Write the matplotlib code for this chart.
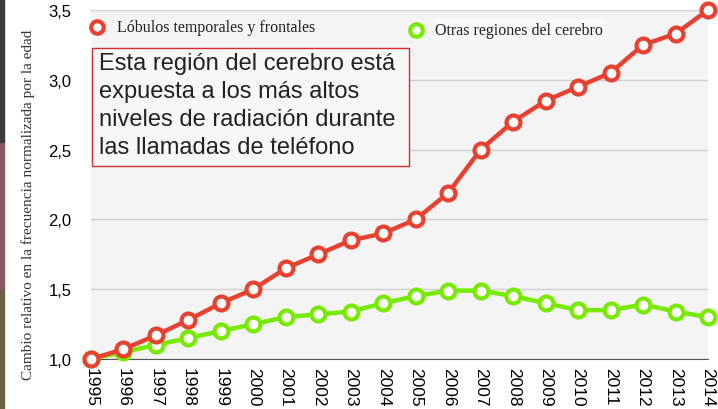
import matplotlib.pyplot as plt
from matplotlib.patches import Rectangle

# Datos
anios = list(range(1995, 2015))
lobulos = [1.0, 1.07, 1.17, 1.28, 1.40, 1.50, 1.65, 1.75, 1.85, 1.90,
           2.0, 2.19, 2.5, 2.7, 2.85, 2.95, 3.05, 3.25, 3.33, 3.5]
otras = [1.0, 1.05, 1.10, 1.15, 1.20, 1.25, 1.30, 1.32, 1.34, 1.40,
         1.45, 1.49, 1.49, 1.45, 1.40, 1.35, 1.35, 1.39, 1.34, 1.30]
yticks = [1.0, 1.5, 2.0, 2.5, 3.0, 3.5]
ytick_labels = ['1,0', '1,5', '2,0', '2,5', '3,0', '3,5']

rojo = '#e8412f'
verde = '#77ea00'

fig = plt.figure(figsize=(7.18, 4.10), dpi=100)
ax = fig.add_axes([91/718, 50/410, 617/718, 349/410])
ax.set_facecolor('#f4f4f4')

# franja de color en el borde izquierdo
for y0, h, c in [(0, 120, '#6c6248'), (120, 147, '#8a5a60'), (267, 143, '#3c3c3c')]:
    fig.patches.append(Rectangle((0, y0/410), 4/718, h/410, transform=fig.transFigure,
                                 color=c, zorder=0))

ax.plot(anios, otras, color=verde, lw=3.2, marker='o', ms=10, mfc='white',
        mec=verde, mew=3, clip_on=False, zorder=3)
ax.plot(anios, lobulos, color=rojo, lw=3.2, marker='o', ms=10, mfc='white',
        mec=rojo, mew=3, clip_on=False, zorder=4)

ax.set_xlim(1995, 2014)
ax.set_ylim(1.0, 3.5)
ax.set_xticks(anios)
ax.set_xticklabels([str(a) for a in anios], rotation=-90, fontsize=12.5,
                   family='Liberation Sans')
ax.set_yticks(yticks)
ax.set_yticklabels(ytick_labels, fontsize=12, family='Liberation Sans')
ax.tick_params(length=0, pad=6)
ax.tick_params(axis='y', pad=14)
ax.yaxis.grid(True, color='#d0d0d0', lw=1)
ax.set_axisbelow(True)
for s in ['top', 'right', 'left']:
    ax.spines[s].set_visible(False)
ax.spines['bottom'].set_color('#555555')

ax.set_ylabel('Cambio relativo en la frecuencia normalizada por la edad',
              family='Liberation Serif', fontsize=11, color='#333333')
ax.yaxis.set_label_coords(-0.09, 0.445)

# leyenda
ax.plot([1995.2], [3.375], marker='o', ms=9, mfc='white', mec=rojo, mew=3,
        clip_on=False, zorder=5)
ax.text(1995.8, 3.375, 'Lóbulos temporales y frontales', va='center',
        family='Liberation Serif', fontsize=11.5, color='#222222')
ax.plot([2005.0], [3.36], marker='o', ms=9, mfc='white', mec=verde, mew=3,
        clip_on=False, zorder=5)
ax.text(2005.6, 3.36, 'Otras regiones del cerebro', va='center',
        family='Liberation Serif', fontsize=11.5, color='#222222',
        bbox=dict(facecolor='#f9f9f9', edgecolor='none', pad=2))

# cuadro de texto
ax.add_patch(Rectangle((0.0016, 0.553), 0.514, 0.338, transform=ax.transAxes,
                       facecolor='#f7f7f7', edgecolor='#d03030', lw=1, zorder=6))
ax.text(0.013, 0.881,
        'Esta región del cerebro está\nexpuesta a los más altos\n'
        'niveles de radiación durante\nlas llamadas de teléfono',
        transform=ax.transAxes, va='top', ha='left', family='Liberation Sans',
        fontsize=17, linespacing=1.36, color='#222222', zorder=7)

fig.savefig('out.png', dpi=100)
